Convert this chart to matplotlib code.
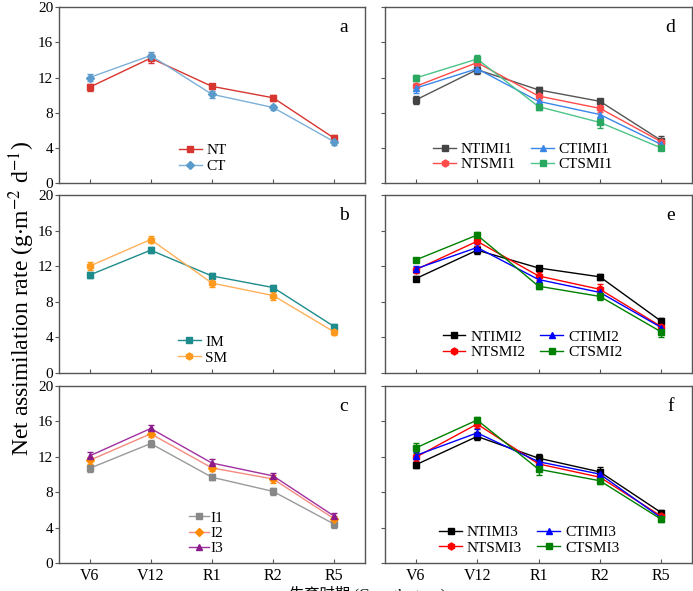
import numpy as np
import matplotlib
matplotlib.use('Agg')
import matplotlib.pyplot as plt
from matplotlib.lines import Line2D

plt.rcParams['font.family'] = ['Liberation Serif', 'Noto Sans CJK SC']
plt.rcParams['mathtext.fontset'] = 'stix'

stages = ['V6', 'V12', 'R1', 'R2', 'R5']

# panel a
nt = [10.9, 14.2, 11.0, 9.7, 5.1]
nt_err = [0.4, 0.5, 0.3, 0.35, 0.4]
ct = [12.0, 14.5, 10.1, 8.6, 4.7]
ct_err = [0.35, 0.45, 0.4, 0.3, 0.35]

# panel b
im = [11.0, 13.8, 10.9, 9.6, 5.2]
im_err = [0.3, 0.35, 0.35, 0.3, 0.3]
sm = [12.0, 15.0, 10.1, 8.7, 4.6]
sm_err = [0.45, 0.35, 0.45, 0.45, 0.35]

# panel c
i1 = [10.7, 13.5, 9.7, 8.1, 4.4]
i1_err = [0.4, 0.35, 0.35, 0.4, 0.4]
i2 = [11.6, 14.6, 10.75, 9.5, 5.0]
i2_err = [0.4, 0.4, 0.4, 0.4, 0.3]
i3 = [12.1, 15.2, 11.3, 9.85, 5.3]
i3_err = [0.45, 0.4, 0.5, 0.35, 0.35]

# panel d
ntimi1 = [9.45, 12.9, 10.6, 9.3, 4.85]
ntimi1_err = [0.5, 0.55, 0.3, 0.3, 0.5]
ntsmi1 = [11.0, 13.7, 9.9, 8.5, 4.7]
ntsmi1_err = [0.4, 0.35, 0.5, 0.4, 0.35]
ctimi1 = [10.8, 13.0, 9.3, 7.8, 4.4]
ctimi1_err = [0.5, 0.3, 0.4, 0.5, 0.35]
ctsmi1 = [11.95, 14.1, 8.7, 6.9, 4.0]
ctsmi1_err = [0.35, 0.5, 0.35, 0.6, 0.25]

# panel e
ntimi2 = [10.6, 13.8, 11.8, 10.8, 5.8]
ntimi2_err = [0.25, 0.45, 0.25, 0.35, 0.35]
ntsmi2 = [11.6, 14.8, 10.9, 9.4, 5.2]
ntsmi2_err = [0.35, 0.5, 0.5, 0.6, 0.35]
ctimi2 = [11.7, 14.1, 10.5, 9.05, 5.1]
ctimi2_err = [0.35, 0.4, 0.35, 0.35, 0.35]
ctsmi2 = [12.7, 15.5, 9.75, 8.6, 4.6]
ctsmi2_err = [0.25, 0.3, 0.35, 0.35, 0.55]

# panel f
ntimi3 = [11.1, 14.3, 11.85, 10.3, 5.7]
ntimi3_err = [0.35, 0.45, 0.45, 0.6, 0.3]
ntsmi3 = [11.95, 15.7, 11.2, 9.7, 5.3]
ntsmi3_err = [0.4, 0.4, 0.35, 0.35, 0.3]
ctimi3 = [12.15, 14.7, 11.45, 10.05, 5.1]
ctimi3_err = [0.35, 0.45, 0.35, 0.35, 0.3]
ctsmi3 = [13.0, 16.15, 10.6, 9.3, 4.95]
ctsmi3_err = [0.6, 0.3, 0.6, 0.35, 0.25]

x = np.arange(len(stages))

fig = plt.figure(figsize=(6.93, 5.91), dpi=100)

left_x, right_x = 0.085, 0.5556
w_left, w_right = 0.4416, 0.443
rows = [(0.690, 0.298), (0.369, 0.301), (0.047, 0.300)]


def make_ax(col, row, letter, show_x):
    l = left_x if col == 0 else right_x
    w = w_left if col == 0 else w_right
    b, h = rows[row]
    ax = fig.add_axes([l, b, w, h])
    ax.set_xlim(-0.5, 4.5)
    ax.set_ylim(0, 20)
    ax.set_xticks(x)
    ax.set_yticks([0, 4, 8, 12, 16, 20])
    for s in ax.spines.values():
        s.set_color('#555555')
        s.set_linewidth(1.0)
    ax.tick_params(axis='y', direction='out', length=3, color='#555555', labelsize=11, pad=1)
    ax.tick_params(axis='x', direction='in', length=3, color='#555555', labelsize=11.5)
    if col == 1:
        ax.set_yticklabels([])
    if show_x:
        ax.set_xticklabels(stages)
    else:
        ax.set_xticklabels([])
    ax.text(0.93, 0.93, letter, transform=ax.transAxes, fontsize=14,
            ha='center', va='top')
    return ax


def series(ax, y, err, color, marker, label, mcolor=None, ms=4.5):
    mc = mcolor if mcolor else color
    ax.errorbar(x, y, yerr=err, color=color, marker=marker, markersize=ms,
                markerfacecolor=mc, markeredgecolor=mc, ecolor=mc,
                linewidth=1.0, elinewidth=1.0, capsize=2.5, capthick=1.0)
    return Line2D([], [], color=color, marker=marker, markersize=ms,
                  markerfacecolor=mc, markeredgecolor=mc, linewidth=1.0,
                  label=label)


leg_kw = dict(loc='center', frameon=False, fontsize=11, handlelength=1.5,
              handletextpad=0.3, labelspacing=0.15)

# a
ax = make_ax(0, 0, 'a', False)
h = [series(ax, nt, nt_err, '#d7352f', 's', 'NT'),
     series(ax, ct, ct_err, '#7cb0d8', 'D', 'CT', mcolor='#5b9bcc', ms=4)]
ax.legend(handles=h, bbox_to_anchor=(0.47, 0.14), **leg_kw)

# b
ax = make_ax(0, 1, 'b', False)
h = [series(ax, im, im_err, '#1e8c8c', 's', 'IM'),
     series(ax, sm, sm_err, '#ffb05a', 'h', 'SM', mcolor='#ff9a1e', ms=5)]
ax.legend(handles=h, bbox_to_anchor=(0.47, 0.13), **leg_kw)

# c
ax = make_ax(0, 2, 'c', True)
h = [series(ax, i1, i1_err, '#9a9a9a', 's', 'I1', mcolor='#888888'),
     series(ax, i2, i2_err, '#f58a80', 'D', 'I2', mcolor='#ff8c00', ms=4),
     series(ax, i3, i3_err, '#a030a0', '^', 'I3', mcolor='#8b1a8b')]
ax.legend(handles=h, loc='center', bbox_to_anchor=(0.48, 0.17), frameon=False,
          fontsize=11, handlelength=1.3, handletextpad=0.1, labelspacing=0.1)

leg2_kw = dict(loc='center', frameon=False, fontsize=11, ncol=2,
               handlelength=1.5, handletextpad=0.3, labelspacing=0.1,
               columnspacing=1.0)

# d
ax = make_ax(1, 0, 'd', False)
h = [series(ax, ntimi1, ntimi1_err, '#555555', 's', 'NTIMI1', mcolor='#444444'),
     series(ax, ntsmi1, ntsmi1_err, '#ff4a4a', 'h', 'NTSMI1', ms=5),
     series(ax, ctimi1, ctimi1_err, '#3a86e8', '^', 'CTIMI1'),
     series(ax, ctsmi1, ctsmi1_err, '#4cc48a', 's', 'CTSMI1', mcolor='#2aa860')]
ax.legend(handles=h, bbox_to_anchor=(0.45, 0.15), **leg2_kw)

# e
ax = make_ax(1, 1, 'e', False)
h = [series(ax, ntimi2, ntimi2_err, '#000000', 's', 'NTIMI2'),
     series(ax, ntsmi2, ntsmi2_err, '#ff0000', 'h', 'NTSMI2', ms=5),
     series(ax, ctimi2, ctimi2_err, '#0000ff', '^', 'CTIMI2'),
     series(ax, ctsmi2, ctsmi2_err, '#008000', 's', 'CTSMI2')]
ax.legend(handles=h, bbox_to_anchor=(0.48, 0.16), **leg2_kw)

# f
ax = make_ax(1, 2, 'f', True)
h = [series(ax, ntimi3, ntimi3_err, '#000000', 's', 'NTIMI3'),
     series(ax, ntsmi3, ntsmi3_err, '#ff0000', 'h', 'NTSMI3', ms=5),
     series(ax, ctimi3, ctimi3_err, '#0000ff', '^', 'CTIMI3'),
     series(ax, ctsmi3, ctsmi3_err, '#008000', 's', 'CTSMI3')]
ax.legend(handles=h, bbox_to_anchor=(0.47, 0.13), **leg2_kw)

fig.text(0.032, 0.495, r'Net assimilation rate (g$\cdot$m$^{-2}$ d$^{-1}$)',
         rotation=90, ha='center', va='center', fontsize=17)
fig.text(0.53, 0.008, '生育时期 (Growth stage)', ha='center', va='top', fontsize=11)

plt.savefig('out.png', dpi=100)
